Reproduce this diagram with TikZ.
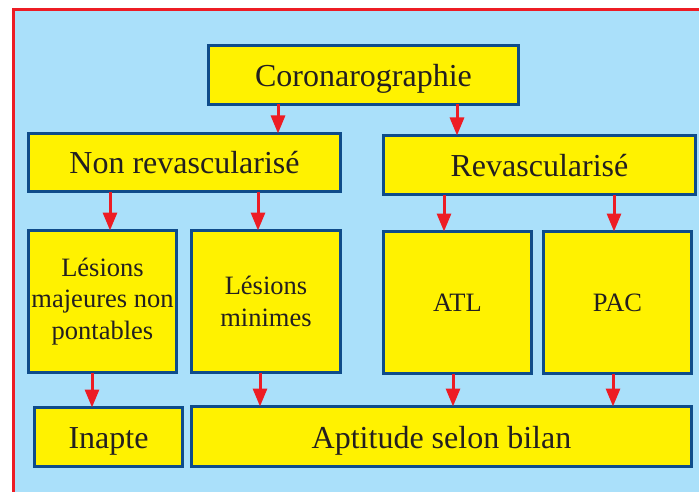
\documentclass[tikz,border=0pt]{standalone}
\usepackage{fontspec}
\setmainfont{Liberation Serif}
\usetikzlibrary{arrows.meta}
\definecolor{fondbleu}{HTML}{AAE0FA}
\definecolor{jaune}{HTML}{FFF200}
\definecolor{bordbleu}{HTML}{0F4C8A}
\definecolor{rouge}{HTML}{ED1C24}
\definecolor{texte}{HTML}{231F20}
\begin{document}
\begin{tikzpicture}[
    x=1pt,y=-1pt,
    boite/.style={draw=bordbleu,fill=jaune,line width=3pt,text=texte,
        align=center,inner sep=0pt,outer sep=0pt},
    grand/.style={font=\fontsize{32}{38}\selectfont,text height=23pt,text depth=0pt},
    petit/.style={font=\fontsize{26.5}{31.5}\selectfont},
    fleche/.style={draw=rouge,line width=3pt,-{Triangle[length=18pt,width=14pt]}}
]
\useasboundingbox (0,0) rectangle (699,492);

% fond et cadre
\fill[fondbleu] (13.5,9.5) rectangle (699,492);
\draw[rouge,line width=3pt] (13.5,492) -- (13.5,9.5) -- (699,9.5);

% niveau 1
\node[boite,grand,minimum width=310,minimum height=59] (coro) at (363.5,75) {Coronarographie};

% niveau 2
\node[boite,grand,minimum width=312,minimum height=58] (nonrev) at (184.5,162.5) {Non revascularisé};
\node[boite,grand,minimum width=312,minimum height=59] (rev) at (539.5,165) {Revascularisé};

% niveau 3
\node[boite,petit,minimum width=148,minimum height=142] (majeures) at (102.5,301.5) {Lésions\\majeures non\\pontables};
\node[boite,petit,minimum width=149,minimum height=142] (minimes) at (266,301.5) {Lésions\\minimes};
\node[boite,petit,minimum width=148,minimum height=142] (atl) at (457.5,302.5) {ATL};
\node[boite,petit,minimum width=148,minimum height=142] (pac) at (617.5,302.5) {PAC};

% niveau 4
\node[boite,grand,minimum width=148,minimum height=59] (inapte) at (108.5,437) {Inapte};
\node[boite,grand,minimum width=500,minimum height=60] (aptitude) at (441.5,436.5) {Aptitude selon bilan};

% fleches
\draw[fleche] ([xshift=-85.5pt]coro.south) -- ([xshift=93.5pt]nonrev.north);
\draw[fleche] ([xshift=93.5pt]coro.south) -- ([xshift=-82.5pt]rev.north);
\draw[fleche] ([xshift=-74.5pt]nonrev.south) -- ([xshift=7.5pt]majeures.north);
\draw[fleche] ([xshift=73.5pt]nonrev.south) -- ([xshift=-8pt]minimes.north);
\draw[fleche] ([xshift=-95.5pt]rev.south) -- ([xshift=-13.5pt]atl.north);
\draw[fleche] ([xshift=74.5pt]rev.south) -- ([xshift=-3.5pt]pac.north);
\draw[fleche] ([xshift=-10.5pt]majeures.south) -- ([xshift=-16.5pt]inapte.north);
\draw[fleche] ([xshift=-6pt]minimes.south) -- ([xshift=-181.5pt]aptitude.north);
\draw[fleche] ([xshift=-4.5pt]atl.south) -- ([xshift=11.5pt]aptitude.north);
\draw[fleche] ([xshift=-4.5pt]pac.south) -- ([xshift=171.5pt]aptitude.north);

\end{tikzpicture}
\end{document}
